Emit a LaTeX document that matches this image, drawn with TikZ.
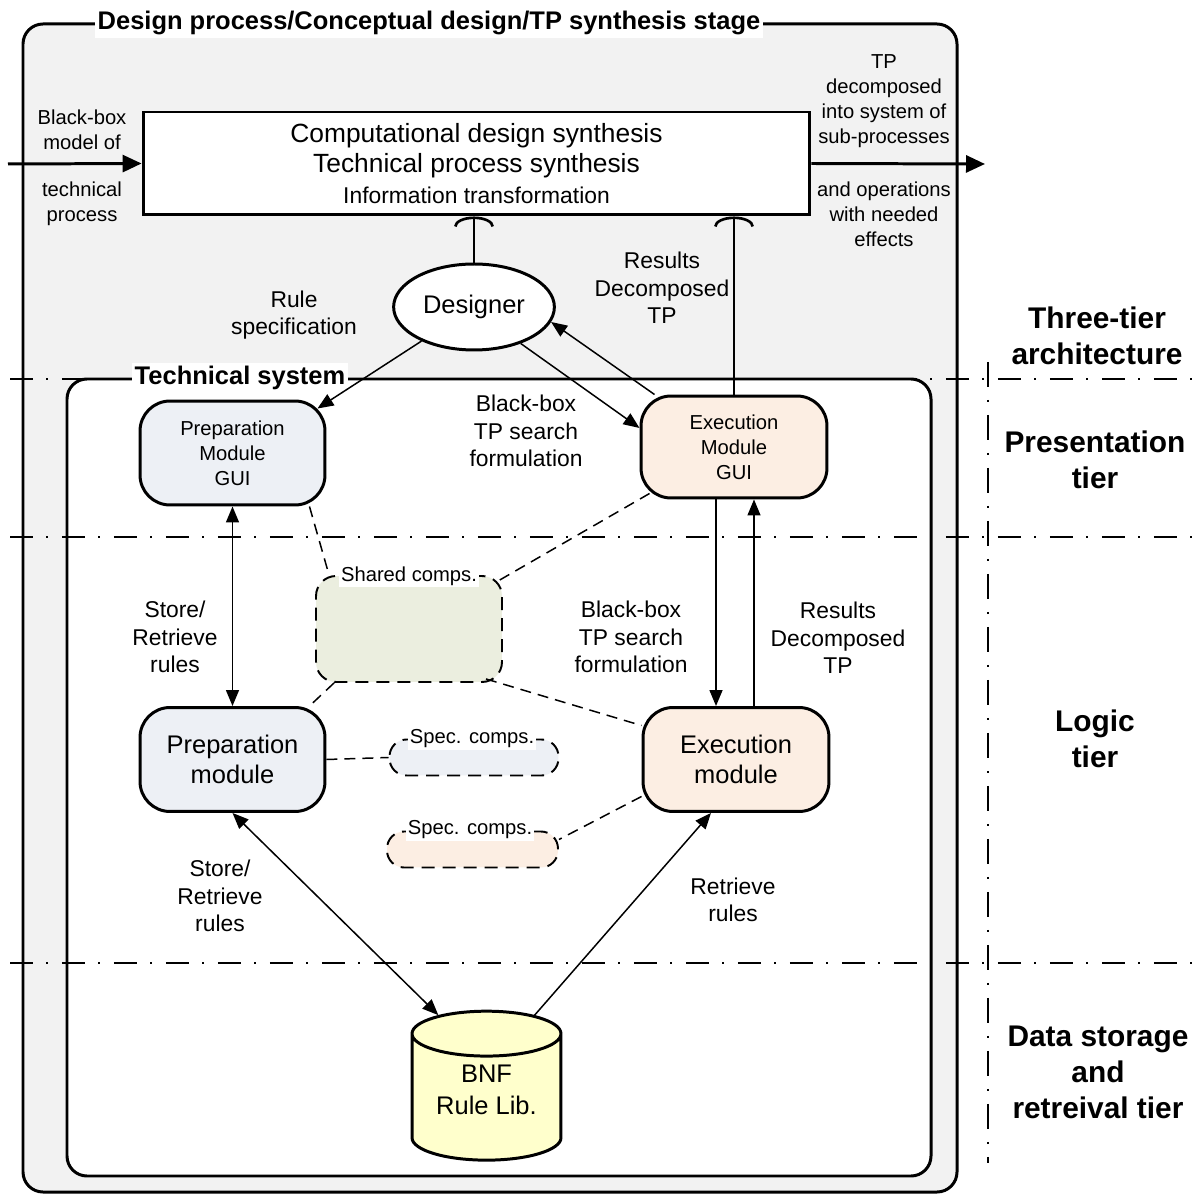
\documentclass[tikz,border=0pt]{standalone}
\usepackage{fontspec}
\setmainfont{Liberation Sans}
\usepackage{xcolor}
\usepackage{tikz}
\usetikzlibrary{shapes.geometric, arrows.meta, positioning}

\definecolor{stagegray}{HTML}{F2F2F2}
\definecolor{prepblue}{HTML}{EDF0F5}
\definecolor{execpeach}{HTML}{FCEEE3}
\definecolor{sharedgreen}{HTML}{EBEEDF}
\definecolor{libyellow}{HTML}{FFFFCC}

\begin{document}
\begin{tikzpicture}[
    x=0.02cm, y=-0.02cm,
    stagebox/.style={draw=black, line width=1.7pt, rounded corners=0.4cm},
    boxtitle/.style={fill=white, inner sep=1.5pt, font=\fontsize{14.5}{17}\selectfont\bfseries},
    module/.style={rectangle, draw=black, line width=1.7pt, rounded corners=0.6cm, minimum width=3.7cm, minimum height=2.08cm, align=center},
    gui/.style={module, font=\fontsize{11.5}{14.2}\selectfont},
    core/.style={module, font=\fontsize{14.5}{17}\selectfont},
    comps/.style={rectangle, draw=black, line width=1.1pt, dash pattern=on 0.26cm off 0.16cm, rounded corners=0.34cm, minimum width=3.38cm, minimum height=0.72cm},
    compslabel/.style={fill=white, inner sep=1pt, font=\fontsize{11.5}{14}\selectfont},
    caption/.style={align=center, font=\fontsize{13}{15.6}\selectfont},
    note/.style={align=center, font=\fontsize{11.5}{14.2}\selectfont},
    tier/.style={align=center, font=\fontsize{17}{20.5}\selectfont\bfseries},
    flow/.style={draw=black, line width=1.7pt, -{Triangle[length=0.38cm, width=0.34cm]}},
    arrow/.style={draw=black, line width=0.85pt, -{Triangle[length=0.32cm, width=0.26cm]}},
    biarrow/.style={draw=black, line width=0.85pt, {Triangle[length=0.32cm, width=0.26cm]}-{Triangle[length=0.32cm, width=0.26cm]}},
    link/.style={draw=black, line width=0.85pt, dash pattern=on 0.22cm off 0.14cm},
    socket/.style={draw=black, line width=1.5pt, -{Arc Barb[width=0.8cm, length=0.2cm]}},
    tierline/.style={draw=black, line width=1.7pt, dash pattern=on 0.46cm off 0.27cm on 0.04cm off 0.27cm},
    tiersep/.style={draw=black, line width=1.1pt, dash pattern=on 0.5cm off 0.26cm on 0.04cm off 0.26cm}
]
    \useasboundingbox (0, 0) rectangle (1200, 1195);
    \draw [stagebox, fill=stagegray] (23, 24) rectangle (957, 1192);
    \draw [stagebox, fill=white] (67, 379) rectangle (931, 1176);
    \draw [tierline] (10, 379) -- (1195, 379);
    \draw [tierline] (10, 537) -- (1195, 537);
    \draw [tierline] (10, 963) -- (1195, 963);
    \draw [tiersep] (988, 362) -- (988, 1163);
    \node [boxtitle] (stage) at (429, 23) {Design process/Conceptual design/TP synthesis stage};
    \node [boxtitle] (techsys) at (240, 378) {Technical system};

    \node [draw=black, fill=white, line width=1.7pt, minimum width=13.34cm, minimum height=2.06cm, align=center, font=\fontsize{15}{17.6}\selectfont] (synth) at (476.5, 163.5) {Computational design synthesis\\Technical process synthesis\\{\fontsize{13}{17.6}\selectfont Information transformation}};
    \coordinate (tpin) at (8, 164);
    \coordinate (tpout) at (985, 164);
    \draw [flow] (tpin) -- (synth.west);
    \draw [flow] (synth.east) -- (tpout);
    \node [note] (inupper) at (82, 129.5) {Black-box\\model of};
    \node [note] (inlower) at (82, 203.5) {technical\\process};
    \node [note] (outupper) at (884, 101.5) {TP\\decomposed\\into system of\\sub-processes};
    \node [note] (outlower) at (884, 214) {and operations\\with needed\\effects};

    \node [ellipse, draw=black, fill=white, line width=1.7pt, minimum width=2.96cm, minimum height=1.72cm, font=\fontsize{14.5}{17}\selectfont] (designer) at (474, 307) {Designer};
    \node [gui, fill=prepblue] (prepgui) at (232.5, 453) {Preparation\\Module\\GUI};
    \node [gui, fill=execpeach, minimum width=3.72cm, minimum height=2.04cm] (execgui) at (734, 447) {Execution\\Module\\GUI};
    \node [comps, fill=sharedgreen, minimum width=3.72cm, minimum height=2.12cm, rounded corners=0.4cm] (shared) at (409, 629) {};
    \node [core, fill=prepblue] (prepmod) at (232.5, 759.5) {Preparation\\module};
    \node [core, fill=execpeach, minimum width=3.72cm] (execmod) at (736, 759.5) {Execution\\module};
    \node [comps, fill=prepblue] (spec1) at (474, 757.5) {};
    \node [comps, fill=execpeach, minimum width=3.42cm] (spec2) at (472.5, 849.5) {};
    \node [cylinder, shape border rotate=90, draw=black, fill=libyellow, line width=1.7pt, aspect=0.4, minimum width=2.98cm, minimum height=2.98cm, align=center, text depth=0.5cm, font=\fontsize{14.5}{18}\selectfont] (rulelib) at (486.5, 1102) {BNF\\Rule Lib.};

    \draw [socket] (designer.north) -- (designer.north |- synth.south);
    \draw [socket] (execgui.north) -- (execgui.north |- synth.south);
    \draw [arrow] (designer.213) -- ([xshift=-0.18cm, yshift=-0.18cm]prepgui.north east);
    \draw [arrow] (designer.-38) -- ([yshift=0.38cm]execgui.west);
    \draw [arrow] ([xshift=0.3cm]execgui.north west) -- (designer.-11);
    \draw [biarrow] (prepgui) -- (prepmod);
    \coordinate (query) at ([xshift=-0.36cm]execgui.south);
    \coordinate (result) at ([xshift=0.4cm]execgui.south);
    \draw [arrow] (query) -- (query |- execmod.north);
    \draw [arrow] (result |- execmod.north) -- (result);
    \draw [biarrow] (prepmod.south) -- (rulelib.119);
    \draw [arrow] (rulelib.61) -- ([xshift=-0.5cm]execmod.south);

    \draw [link] ([xshift=-0.34cm]prepgui.south east) -- ([xshift=0.28cm]shared.north west);
    \draw [link] ([xshift=0.2cm, yshift=0.12cm]execgui.south west) -- ([xshift=-0.1cm, yshift=-0.12cm]shared.north east);
    \draw [link] ([xshift=0.38cm]shared.south west) -- ([xshift=-0.34cm]prepmod.north east);
    \draw [link] ([xshift=-0.34cm, yshift=0.08cm]shared.south east) -- ([yshift=0.68cm]execmod.west);
    \draw [link] (prepmod.east) -- (spec1.west);
    \draw [link] ([yshift=-0.74cm]execmod.west) -- ([yshift=0.2cm]spec2.east);
    \node [compslabel] (sharedlabel) at (409, 576) {Shared comps.};
    \node [compslabel] (spec1label) at (472, 739) {Spec. comps.};
    \node [compslabel] (spec2label) at (470, 830) {Spec. comps.};

    \node [caption] (rulespec) at (294, 315) {Rule\\specification};
    \node [caption] (resultsup) at (662, 288) {Results\\Decomposed\\TP};
    \node [caption] (searchup) at (526, 431) {Black-box\\TP search\\formulation};
    \node [caption] (storeup) at (175, 637) {Store/\\Retrieve\\rules};
    \node [caption] (searchdown) at (631, 637) {Black-box\\TP search\\formulation};
    \node [caption] (resultsdown) at (838, 638) {Results\\Decomposed\\TP};
    \node [caption] (storedown) at (220, 896) {Store/\\Retrieve\\rules};
    \node [caption] (retrieve) at (733, 900) {Retrieve\\rules};

    \node [tier] (threetier) at (1097, 336) {Three-tier\\architecture};
    \node [tier] (presentation) at (1095, 460) {Presentation\\tier};
    \node [tier] (logic) at (1095, 739) {Logic\\tier};
    \node [tier] (storage) at (1098, 1072) {Data storage\\and\\retreival tier};
\end{tikzpicture}
\end{document}
